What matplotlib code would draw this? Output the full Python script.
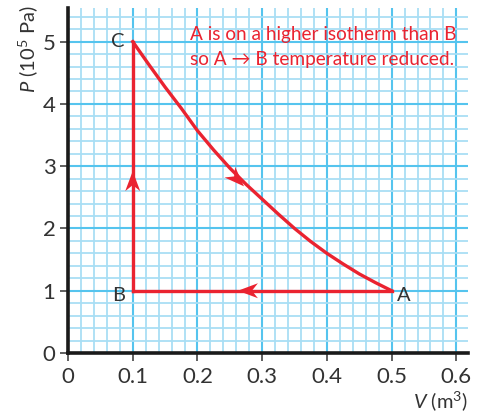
import matplotlib
matplotlib.use("Agg")
import matplotlib.pyplot as plt
import numpy as np
from matplotlib.ticker import MultipleLocator
from matplotlib.patches import Polygon
from matplotlib.transforms import IdentityTransform

# ---- data ----
curve_v = [0.100, 0.125, 0.150, 0.175, 0.200, 0.225, 0.250, 0.275, 0.300,
           0.325, 0.350, 0.375, 0.400, 0.425, 0.450, 0.475, 0.500]
curve_p = [5.00, 4.63, 4.27, 3.93, 3.57, 3.26, 2.97, 2.71, 2.47,
           2.23, 2.00, 1.79, 1.60, 1.43, 1.27, 1.13, 1.00]
isobar_v = [0.5, 0.1]
isobar_p = [1.0, 1.0]
isochore_v = [0.1, 0.1]
isochore_p = [1.0, 5.0]
points = {"A": (0.5, 1.0), "B": (0.1, 1.0), "C": (0.1, 5.0)}
x_ticks = [0, 0.1, 0.2, 0.3, 0.4, 0.5, 0.6]
x_tick_labels = ["0", "0.1", "0.2", "0.3", "0.4", "0.5", "0.6"]
y_ticks = [0, 1, 2, 3, 4, 5]
note = "A is on a higher isotherm than B\nso A \u2192 B temperature reduced."

RED = "#ea2330"
TXT = "#333333"
MINOR = "#a9def4"
MAJOR = "#55c4ee"
FONT = ["Lato", "DejaVu Sans"]

plt.rcParams["font.family"] = FONT
plt.rcParams["mathtext.fontset"] = "custom"
plt.rcParams["mathtext.rm"] = "Lato"
plt.rcParams["mathtext.it"] = "Lato:italic"

fig = plt.figure(figsize=(4.84, 4.12), dpi=100)
ax = fig.add_axes([68/484, 1 - 353/412, (468 - 68)/484, (353 - 8)/412])

ax.set_xlim(0, 0.618)
ax.set_ylim(0, 5.54)

ax.xaxis.set_minor_locator(MultipleLocator(0.02))
ax.yaxis.set_minor_locator(MultipleLocator(0.2))
ax.set_xticks(x_ticks)
ax.set_xticklabels(x_tick_labels)
ax.set_yticks(y_ticks)
ax.grid(which="minor", color=MINOR, linewidth=1.3, zorder=0)
ax.grid(which="major", color=MAJOR, linewidth=1.5, zorder=0.5)
ax.set_axisbelow(True)

for s in ["top", "right"]:
    ax.spines[s].set_visible(False)
for s in ["left", "bottom"]:
    ax.spines[s].set_linewidth(2.6)
    ax.spines[s].set_color("#1a1a1a")
    ax.spines[s].set_zorder(5)

ax.tick_params(which="major", direction="out", length=6, width=1.2,
               color="#444444", labelcolor=TXT, labelsize=16, pad=3)
ax.tick_params(axis="x", which="major", pad=4)
ax.tick_params(which="minor", length=0)

# cycle
lw = 2.4
ax.plot(curve_v, curve_p, color=RED, lw=lw, zorder=3, solid_joinstyle="round")
ax.plot(isobar_v, isobar_p, color=RED, lw=lw, zorder=3)
ax.plot(isochore_v, isochore_p, color=RED, lw=lw, zorder=3)


def arrowhead(x, y, dx, dy, length=20, width=15):
    p = ax.transData.transform((x, y))
    q = ax.transData.transform((x + dx, y + dy))
    d = (q - p) / np.hypot(*(q - p))
    n = np.array([-d[1], d[0]])
    tip = p + d * length / 2
    back = p - d * length / 2
    notch = back + d * length * 0.3
    verts = [tip, back + n * width / 2, notch, back - n * width / 2]
    ax.add_patch(Polygon(verts, closed=True, transform=IdentityTransform(),
                         fc=RED, ec="none", zorder=4))


fig.canvas.draw()
arrowhead(0.1, 2.76, 0, 1)
arrowhead(0.278, 1.0, -1, 0)
arrowhead(0.261, 2.79, 0.025, -0.26)

# point labels
ax.text(points["C"][0] - 0.012, points["C"][1], "C", ha="right", va="center",
        fontsize=14.5, color=TXT)
ax.text(points["B"][0] - 0.012, points["B"][1] - 0.08, "B", ha="right", va="center",
        fontsize=14.5, color=TXT)
ax.text(points["A"][0] + 0.008, points["A"][1] - 0.08, "A", ha="left", va="center",
        fontsize=14.5, color=TXT)

ax.text(0.188, 5.25, note, ha="left", va="top", fontsize=13.7, color=RED,
        linespacing=1.55)

ax.text(-0.10, 0.88, r"$P$ (10$^5$ Pa)", transform=ax.transAxes, rotation=90,
        ha="center", va="center", fontsize=14.5, color=TXT)
ax.text(0.93, -0.14, r"$V$ (m$^3$)", transform=ax.transAxes,
        ha="center", va="center", fontsize=14.5, color=TXT)

fig.savefig("out.png", dpi=100)
